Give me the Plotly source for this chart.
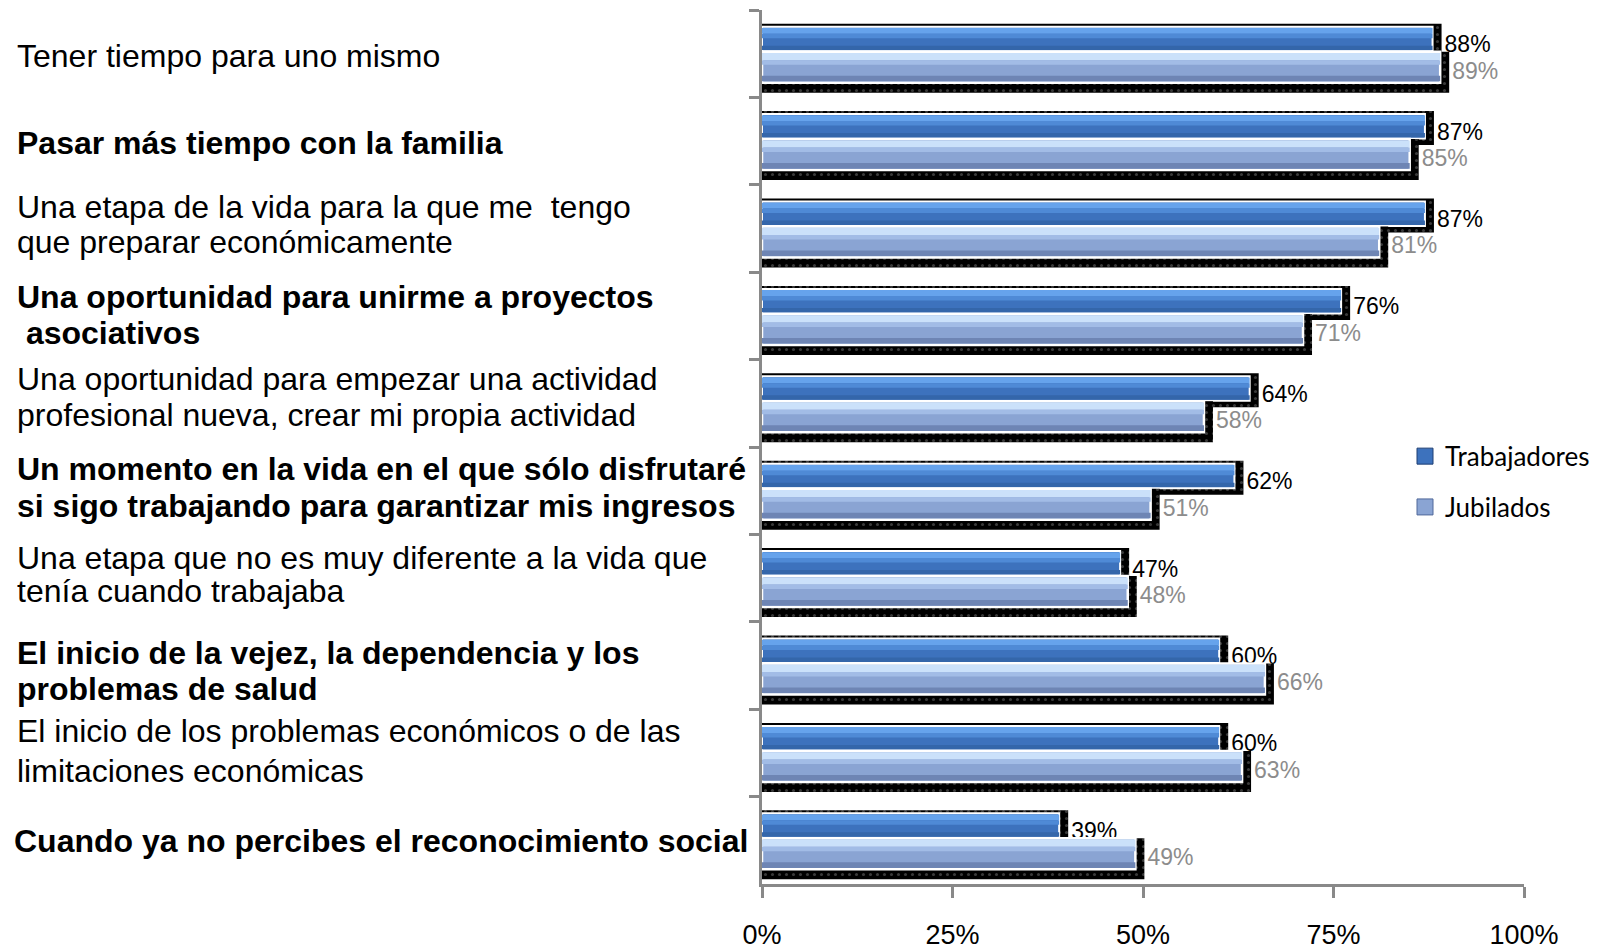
import plotly.graph_objects as go

# ---------------- data ----------------
category_lines = [
    ["Tener tiempo para uno mismo"],
    ["Pasar más tiempo con la familia"],
    ["Una etapa de la vida para la que me  tengo", "que preparar económicamente"],
    ["Una oportunidad para unirme a proyectos", "\u00a0asociativos"],
    ["Una oportunidad para empezar una actividad", "profesional nueva, crear mi propia actividad"],
    ["Un momento en la vida en el que sólo disfrutaré", "si sigo trabajando para garantizar mis ingresos"],
    ["Una etapa que no es muy diferente a la vida que", "tenía cuando trabajaba"],
    ["El inicio de la vejez, la dependencia y los", "problemas de salud"],
    ["El inicio de los problemas económicos o de las", "limitaciones económicas"],
    ["Cuando ya no percibes el reconocimiento social"],
]
categories = [" ".join(l) for l in category_lines]
bold_labels = [False, True, False, True, False, True, False, True, False, True]
trabajadores = [88, 87, 87, 76, 64, 62, 47, 60, 60, 39]
jubilados = [89, 85, 81, 71, 58, 51, 48, 66, 63, 49]
x_ticks = [0, 25, 50, 75, 100]
x_ticktext = ["0%", "25%", "50%", "75%", "100%"]

# ---------------- layout geometry (pixels) ----------------
# the page body has an 8px margin, so the figure is drawn 8px in from the window edge
BODY = 8
W, H = 1623 - BODY, 950 - BODY
left, right, top, bottom = 762 - BODY, 1524 - BODY, 9.5 - BODY, 884 - BODY
plot_w = right - left
plot_h = bottom - top
ncat = len(categories)
cat_px = plot_h / ncat
line_offsets = [[2.7], [2], [-21.2, 13.9], [-18.7, 17.5], [-24.4, 11.8],
                [-21.9, 15.3], [-20.4, 12.7], [-12.5, 23.5], [-21.5, 17.8], [0.7]]
label_x = [14.5 - BODY] * 9 + [11.5 - BODY]


def band(y0, y1):
    """pixel offsets from category centre -> (offset, width) in category units"""
    return y0 / cat_px, (y1 - y0) / cat_px


shadow_dx = 9 / plot_w * 100  # shadow extends 9px right of the bar end

fig = go.Figure()


def add_bar(vals, y0, y1, color, line_color=None, line_w=0, pattern=None, text=None,
            tcolor="black"):
    off, wid = band(y0, y1)
    marker = dict(color=color, line=dict(color=line_color or color, width=line_w))
    if pattern:
        marker["pattern"] = pattern
    kw = {}
    if text is not None:
        kw = dict(text=text, textposition="outside", constraintext="none",
                  textfont=dict(family="Liberation Sans", size=23, color=tcolor),
                  cliponaxis=False)
    fig.add_trace(go.Bar(y=categories, x=vals, orientation="h", offset=off, width=wid,
                         marker=marker, showlegend=False, hoverinfo="skip", **kw))


shadow_pattern = dict(shape=".", fgcolor="#747474", bgcolor="black", size=7, solidity=0.15)
trab_sh = [v + shadow_dx for v in trabajadores]
jub_sh = [v + shadow_dx for v in jubilados]

# Trabajadores: shadow, bar (banded gradient), label
add_bar(trab_sh, -30, 4, "black", pattern=shadow_pattern)
add_bar(trabajadores, -27, -2.5, "#3d72bd", "white", 2)
add_bar(trabajadores, -25.8, -20, "#66a3ec")
add_bar(trabajadores, -20, -15.5, "#4f8ad6")
add_bar(trabajadores, -8, -3.6, "#3466aa")
add_bar(trab_sh, -14.5, -4.5, "rgba(0,0,0,0)",
        text=[f"{v}%" for v in trabajadores], tcolor="black")

# Jubilados: shadow, bar (banded gradient), label
add_bar(jub_sh, -2, 39, "black", pattern=shadow_pattern)
add_bar(jubilados, -2, 29, "#8aa4d3", "white", 2.5)
add_bar(jubilados, -0.7, 6.5, "#cbe1fa")
add_bar(jubilados, 6.5, 11, "#a2bce6")
add_bar(jubilados, 22, 27.6, "#6e85b4")
add_bar(jub_sh, 12, 22, "rgba(0,0,0,0)",
        text=[f"{v}%" for v in jubilados], tcolor="#8c8c8c")

# legend entries
fig.add_trace(go.Scatter(x=[None], y=[None], mode="markers", name="Trabajadores",
                         marker=dict(symbol="square", size=20, color="#3d72bd",
                                     line=dict(color="#1f3f73", width=1)),
                         legendgroup="a"))
fig.add_trace(go.Scatter(x=[None], y=[None], mode="markers", name="Jubilados",
                         marker=dict(symbol="square", size=20, color="#8aa4d3",
                                     line=dict(color="#51689a", width=1)),
                         legendgroup="b"))

annotations = []
for cat, lines, offs, b, lx in zip(categories, category_lines, line_offsets, bold_labels, label_x):
    for ln, off in zip(lines, offs):
        annotations.append(dict(
            x=(lx - left) / plot_w, xref="paper", xanchor="left",
            y=cat, yref="y", yanchor="middle", yshift=-off,
            text=f"<b>{ln}</b>" if b else ln, showarrow=False, align="left",
            font=dict(family="Liberation Sans", size=32, color="black"),
        ))

grey = "#898989"
fig.update_layout(
    width=W, height=H,
    margin=dict(l=left, r=W - right, t=top, b=H - bottom, pad=0, autoexpand=False),
    paper_bgcolor="white", plot_bgcolor="white",
    barmode="overlay",
    xaxis=dict(range=[0, 100], tickvals=x_ticks, ticktext=x_ticktext,
               showline=True, linecolor=grey, linewidth=2.5,
               ticks="outside", ticklen=11, tickwidth=2.5, tickcolor=grey,
               showgrid=False, zeroline=False, ticklabelstandoff=14, automargin=False,
               tickfont=dict(family="Liberation Sans", size=27, color="black")),
    yaxis=dict(type="category", categoryarray=categories, range=[ncat - 0.5, -0.5],
               showline=True, linecolor=grey, linewidth=2.5, automargin=False,
               showticklabels=False, ticks="outside", tickson="boundaries",
               ticklen=10, tickwidth=2.5, tickcolor=grey,
               showgrid=False, zeroline=False),
    legend=dict(x=(1405 - BODY - left) / plot_w, y=(bottom - (481.5 - BODY)) / plot_h,
                xanchor="left", yanchor="middle", bgcolor="rgba(0,0,0,0)",
                font=dict(family="Lato", size=26, color="black"),
                tracegroupgap=14),
    annotations=annotations,
    showlegend=True,
)

fig.write_html("out.html")
